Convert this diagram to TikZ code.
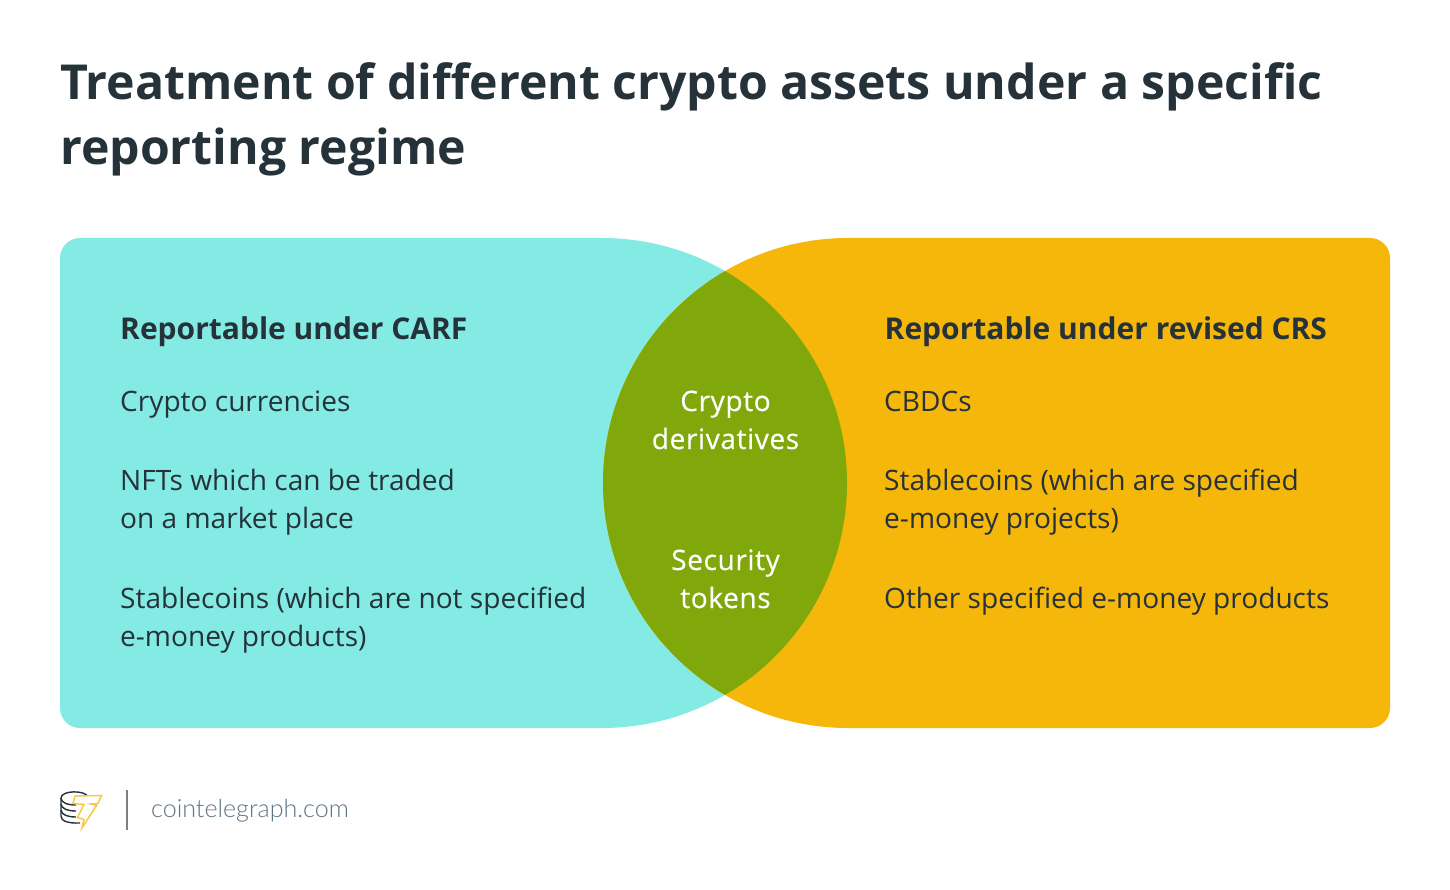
\documentclass[tikz,border=0pt]{standalone}
\usepackage{fontspec}
\setmainfont{Open Sans}
\newfontfamily\footfont{Lato Light}
\newfontfamily\midfont[FakeBold=0.35,LetterSpace=2]{Open Sans}
\definecolor{inkdark}{HTML}{25323A}
\definecolor{tealfill}{HTML}{84EBE4}
\definecolor{orangefill}{HTML}{F5B70A}
\definecolor{overlapfill}{HTML}{80A80A}
\definecolor{footgrey}{HTML}{5E7482}
\definecolor{rulegrey}{HTML}{7F7F7F}
\definecolor{boltyellow}{HTML}{F7C843}
\tikzset{
  x=1pt,y=-1pt,
  titletext/.style={anchor=base west,inner sep=0,font=\fontsize{48.2}{65}\selectfont\bfseries,text=inkdark,align=left},
  headtext/.style={anchor=base west,inner sep=0,font=\fontsize{30}{38}\selectfont\bfseries,text=inkdark},
  bodytext/.style={anchor=base west,inner sep=0,font=\fontsize{28.08}{38}\selectfont,text=inkdark,align=left},
  midtext/.style={anchor=base,inner sep=0,font=\midfont\fontsize{28.15}{38}\selectfont,text=white,align=center},
  footertext/.style={anchor=base west,inner sep=0,font=\footfont\fontsize{25.05}{30}\selectfont,text=footgrey},
  coinline/.style={draw=inkdark,line width=1.4pt,fill=none},
  boltline/.style={draw=boltyellow,line width=1.5pt,line join=miter,fill=white},
}
\begin{document}
\begin{tikzpicture}
\useasboundingbox (0,0) rectangle (1450,890);
\fill[white] (0,0) rectangle (1450,890);
% lobes
\fill[tealfill] (80,238) -- (602,238) arc[start angle=-90,end angle=90,radius=245] -- (80,728)
  arc[start angle=90,end angle=180,radius=20] -- (60,258) arc[start angle=180,end angle=270,radius=20] -- cycle;
\fill[orangefill] (848,238) -- (1370,238) arc[start angle=-90,end angle=0,radius=20] -- (1390,708)
  arc[start angle=0,end angle=90,radius=20] -- (848,728) arc[start angle=90,end angle=270,radius=245] -- cycle;
\begin{scope}
  \clip (602,483) circle[radius=245];
  \fill[overlapfill] (848,483) circle[radius=245];
\end{scope}
% title
\node[titletext] (title) at (60,165) {Treatment of different crypto assets under a specific\\reporting regime};
% left
\node[headtext] (lefthead) at (120,339) {Reportable under CARF};
\node[bodytext] (l1) at (120,411) {Crypto currencies};
\node[bodytext] (l2) at (120,528) {NFTs which can be traded\\on a market place};
\node[bodytext] (l3) at (120,646) {Stablecoins (which are not specified\\e-money products)};
% middle
\node[midtext] (m1) at (725.5,449) {Crypto\\derivatives};
\node[midtext] (m2) at (725.5,608) {Security\\tokens};
% right
\node[headtext] (righthead) at (884.5,339) {Reportable under revised CRS};
\node[bodytext] (r1) at (884,411) {CBDCs};
\node[bodytext] (r2) at (884,528) {Stablecoins (which are specified\\e-money projects)};
\node[bodytext] (r3) at (884,608) {Other specified e-money products};
% footer
\draw[rulegrey,line width=1.6pt] (127,790) -- (127,830);
\node[footertext] (site) at (151,817) {cointelegraph.com};
% logo: coin stack
\draw[coinline] (61,798) .. controls (61,790) and (86,790) .. (88,797);
\draw[coinline] (61,798) .. controls (61,803) and (68,805) .. (76,805);
\draw[coinline] (61,798) -- (61,816) .. controls (61,821) and (68,823.5) .. (80,823);
\draw[coinline] (61,804) .. controls (61.5,809) and (68,811) .. (76,811);
\draw[coinline] (61,810) .. controls (61.5,815) and (68,817) .. (76,817);
% logo: bolt
\draw[boltline] (75,796) -- (101.5,795.5) -- (98,803.5) -- (91,804) -- (96.5,805.5) -- (82,828) -- (84,819.5) -- (77.5,817.5) -- (84,804.5) -- (73,803.5) -- cycle;
\end{tikzpicture}
\end{document}
